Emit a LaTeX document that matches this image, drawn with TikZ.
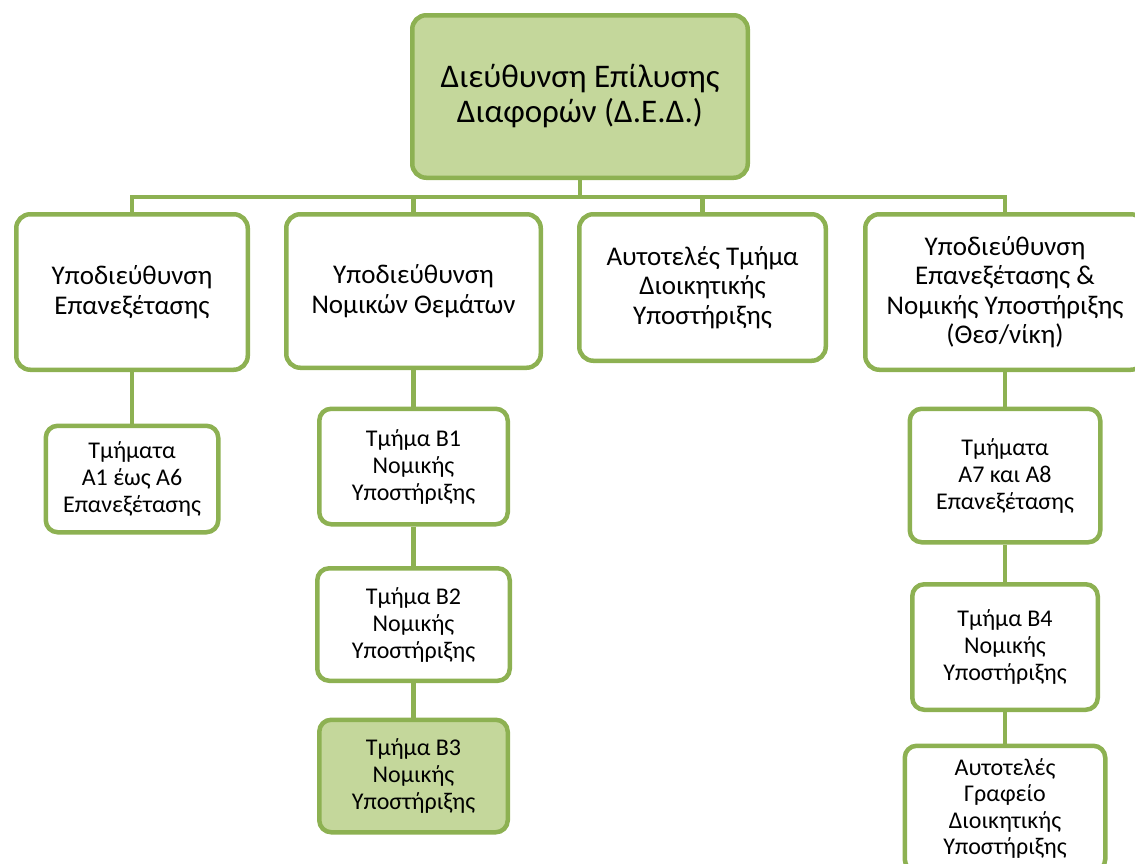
\documentclass[tikz,border=0pt]{standalone}
\usepackage{fontspec}
\setmainfont{Carlito}
\usetikzlibrary{positioning}
\definecolor{leafgreen}{HTML}{8DB152}
\definecolor{palegreen}{HTML}{C4D79B}
\tikzstyle{unit} = [draw=leafgreen, line width=4.5pt, fill=white, text centered, align=center, rounded corners=14pt, inner sep=0pt]
\tikzstyle{head} = [unit, fill=palegreen]
\tikzstyle{small} = [unit, rounded corners=12pt, font=\fontsize{24}{27}\selectfont]
\tikzset{
  link/.style ={draw=leafgreen, line width=4.5pt}
}

\begin{document}
\begin{tikzpicture}[x=1pt,y=-1pt,font=\fontsize{27}{29.5}\selectfont]
  \useasboundingbox (0,0) rectangle (1135,863);
  \clip (0,0) rectangle (1135,863);

  \node[head, minimum width=335.5pt, minimum height=162.5pt, font=\fontsize{33}{35}\selectfont] (ded) at (580,96.5) {Διεύθυνση Επίλυσης\\Διαφορών (Δ.Ε.Δ.)};

  \node[unit, minimum width=231.5pt, minimum height=155.5pt] (sub1) at (132,292) {Υποδιεύθυνση\\Επανεξέτασης};
  \node[unit, minimum width=254.5pt, minimum height=153.5pt] (sub2) at (413.5,291) {Υποδιεύθυνση\\Νομικών Θεμάτων};
  \node[unit, minimum width=246.5pt, minimum height=146.5pt] (sub3) at (702.5,287.5) {Αυτοτελές Τμήμα\\Διοικητικής\\Υποστήριξης};
  \node[unit, minimum width=279.5pt, minimum height=155.5pt] (sub4) at (1005,292) {Υποδιεύθυνση\\Επανεξέτασης \&\\Νομικής Υποστήριξης\\(Θεσ/νίκη)};

  \node[small, minimum width=172.5pt, minimum height=106.5pt, below=51.5pt of sub1] (a16) {Τμήματα\\Α1 έως Α6\\Επανεξέτασης};

  \node[small, minimum width=188.5pt, minimum height=115.5pt, below=36.5pt of sub2] (b1) {Τμήμα Β1\\Νομικής\\Υποστήριξης};
  \node[small, minimum width=192.5pt, minimum height=112.5pt, below=39.5pt of b1] (b2) {Τμήμα Β2\\Νομικής\\Υποστήριξης};
  \node[small, head, rounded corners=12pt, minimum width=188.5pt, minimum height=112.5pt, below=34.5pt of b2] (b3) {Τμήμα Β3\\Νομικής\\Υποστήριξης};

  \node[small, minimum width=190.5pt, minimum height=133.5pt, below=34.5pt of sub4] (a78) {Τμήματα\\Α7 και Α8\\Επανεξέτασης};
  \node[small, minimum width=185.5pt, minimum height=125.5pt, below=37.5pt of a78] (b4) {Τμήμα Β4\\Νομικής\\Υποστήριξης};
  \node[small, minimum width=200.5pt, minimum height=125.5pt, below=31.5pt of b4, font=\fontsize{24}{26.5}\selectfont] (graf) {Αυτοτελές\\Γραφείο\\Διοικητικής\\Υποστήριξης};

  \draw[link] (ded.south) -- ++(0,17) -| (sub1.north);
  \draw[link] (ded.south) -- ++(0,17) -| (sub2.north);
  \draw[link] (ded.south) -- ++(0,17) -| (sub3.north);
  \draw[link] (ded.south) -- ++(0,17) -| (sub4.north);

  \draw[link] (sub1.south) -- (a16.north);
  \draw[link] (sub2.south) -- (b1.north);
  \draw[link] (b1.south) -- (b2.north);
  \draw[link] (b2.south) -- (b3.north);
  \draw[link] (sub4.south) -- (a78.north);
  \draw[link] (a78.south) -- (b4.north);
  \draw[link] (b4.south) -- (graf.north);

\end{tikzpicture}
\end{document}
